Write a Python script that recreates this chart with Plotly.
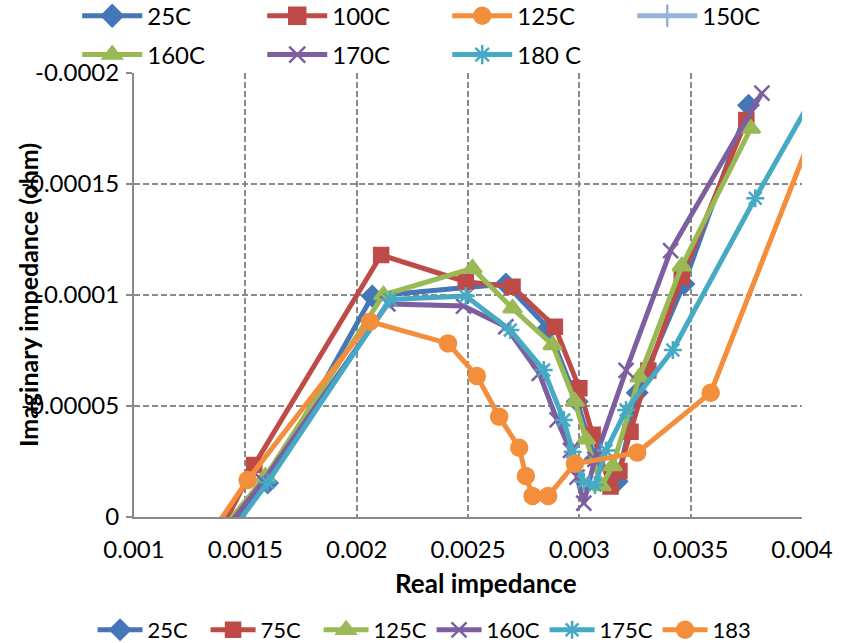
import plotly.graph_objects as go

# Nyquist-style impedance data: real part (ohm) vs. imaginary part (ohm)
LABELS = ["25C", "75C", "125C", "160C", "175C", "183"]

X_25C = [0.00130, 0.00160, 0.00207, 0.00267, 0.00286, 0.00299, 0.00307, 0.00317, 0.00326, 0.00347, 0.00376]
Y_25C = [0.0000206, -0.0000153, -0.0000995, -0.000105, -0.0000850, -0.0000520, -0.0000260, -0.0000160, -0.0000560, -0.000105, -0.0001855]

X_75C = [0.00130, 0.00154, 0.00211, 0.00249, 0.00270, 0.00289, 0.00300, 0.00306, 0.00314, 0.00318, 0.00323, 0.00331, 0.00346, 0.00375]
Y_75C = [0.0000236, -0.0000234, -0.000118, -0.000106, -0.0001037, -0.0000857, -0.0000580, -0.0000370, -0.0000137, -0.0000207, -0.0000384, -0.0000660, -0.000108, -0.0001788]

X_125C = [0.00130, 0.00159, 0.00212, 0.00252, 0.00270, 0.00288, 0.00298, 0.00303, 0.00310, 0.00315, 0.00327, 0.00346, 0.00377]
Y_125C = [0.0000172, -0.0000182, -0.000100, -0.000112, -0.0000940, -0.0000775, -0.0000520, -0.0000350, -0.0000140, -0.0000230, -0.0000630, -0.000113, -0.000175]

X_160C = [0.00130, 0.00158, 0.00214, 0.00248, 0.00267, 0.00282, 0.00290, 0.00296, 0.00299, 0.00302, 0.00307, 0.00321, 0.00341, 0.00382]
Y_160C = [0.0000196, -0.0000160, -0.0000960, -0.0000950, -0.0000857, -0.0000647, -0.0000437, -0.0000300, -0.0000180, -0.0000062, -0.0000260, -0.0000660, -0.000120, -0.0001909]

X_175C = [0.00130, 0.00160, 0.00215, 0.00249, 0.00269, 0.00284, 0.00293, 0.00297, 0.00302, 0.00307, 0.00312, 0.00321, 0.00342, 0.00379, 0.00420]
Y_175C = [0.0000250, -0.0000155, -0.0000980, -0.0000995, -0.0000842, -0.0000662, -0.0000437, -0.0000294, -0.0000159, -0.0000144, -0.0000300, -0.0000482, -0.0000752, -0.0001436, -0.000216]

X_183 = [0.00130, 0.00151, 0.00206, 0.00241, 0.00254, 0.00264, 0.00273, 0.00276, 0.00279, 0.00286, 0.00298, 0.00326, 0.00359, 0.00420]
Y_183 = [0.0000143, -0.0000167, -0.0000880, -0.0000782, -0.0000635, -0.0000452, -0.0000312, -0.0000185, -0.0000095, -0.0000095, -0.0000240, -0.0000290, -0.0000560, -0.000212]

# Secondary legend (temperature key shown above the plot)
KEY_LABELS = ["25C", "100C", "125C", "150C", "160C", "170C", "180 C"]

X_TICK_VALS = [0.001, 0.0015, 0.002, 0.0025, 0.003, 0.0035, 0.004]
X_TICK_TEXT = ["0.001", "0.0015", "0.002", "0.0025", "0.003", "0.0035", "0.004"]
Y_TICK_VALS = [0, -0.00005, -0.0001, -0.00015, -0.0002]
Y_TICK_TEXT = ["0", "-0.00005", "-0.0001", "-0.00015", "-0.0002"]

BLUE = "#4576B8"
RED = "#BE4B48"
GREEN = "#98B954"
PURPLE = "#7D5FA0"
TEAL = "#46AAC5"
ORANGE = "#F38F3C"
LIGHTBLUE = "#95B3D7"

FONT = "Lato, Liberation Sans, Arial, sans-serif"

series = [
    (X_25C, Y_25C, BLUE, "diamond", 15),
    (X_75C, Y_75C, RED, "square", 14),
    (X_125C, Y_125C, GREEN, "triangle-up", 16),
    (X_160C, Y_160C, PURPLE, "x-thin-open", 15),
    (X_175C, Y_175C, TEAL, "asterisk-open", 15),
    (X_183, Y_183, ORANGE, "circle", 16),
]

fig = go.Figure()

for (xs, ys, color, sym, size), name in zip(series, LABELS):
    fig.add_trace(go.Scatter(
        x=xs, y=ys, name=name, mode="lines+markers",
        line=dict(color=color, width=5),
        marker=dict(symbol=sym, size=size, color=color,
                    line=dict(color=color, width=2.5)),
        legend="legend",
    ))

key_styles = [
    (BLUE, "diamond", "legend2"),
    (RED, "square", "legend2"),
    (ORANGE, "circle", "legend2"),
    (LIGHTBLUE, "line-ns-open", "legend2"),
    (GREEN, "triangle-up", "legend3"),
    (PURPLE, "x-thin-open", "legend3"),
    (TEAL, "asterisk-open", "legend3"),
]
for (color, sym, leg), name in zip(key_styles, KEY_LABELS):
    fig.add_trace(go.Scatter(
        x=[None], y=[None], name=name, mode="lines+markers",
        line=dict(color=color, width=5),
        marker=dict(symbol=sym, size=16, color=color,
                    line=dict(color=color, width=2.5)),
        legend=leg, hoverinfo="skip",
    ))

axis_grey = "#8A8A8A"
fig.update_xaxes(
    range=[0.001, 0.004], tickvals=X_TICK_VALS, ticktext=X_TICK_TEXT,
    showgrid=True, gridcolor=axis_grey, griddash="6px,3px", gridwidth=1.6,
    showline=True, linecolor=axis_grey, linewidth=2, zeroline=False,
    ticks="", tickfont=dict(size=24), ticklabelstandoff=10,
)
fig.update_yaxes(
    range=[0, -0.0002], tickvals=Y_TICK_VALS, ticktext=Y_TICK_TEXT,
    showgrid=True, gridcolor=axis_grey, griddash="6px,3px", gridwidth=1.6,
    showline=True, linecolor=axis_grey, linewidth=2, zeroline=False,
    ticks="outside", ticklen=6, tickcolor=axis_grey, tickwidth=1.5,
    tickfont=dict(size=24), ticklabelstandoff=2,
)

legend_common = dict(orientation="h", bgcolor="rgba(0,0,0,0)",
                     xanchor="left", yanchor="middle")
fig.update_layout(
    width=842, height=643,
    margin=dict(l=134, r=40, t=73, b=126, autoexpand=False),
    plot_bgcolor="white", paper_bgcolor="white",
    font=dict(family=FONT, size=22, color="black"),
    showlegend=True,
    legend=dict(x=-0.062, y=-0.2545, entrywidth=53, itemwidth=45,
                font=dict(size=22), **legend_common),
    legend2=dict(x=-0.085, y=1.128, entrywidth=110, itemwidth=60,
                 font=dict(size=24), **legend_common),
    legend3=dict(x=-0.085, y=1.0405, entrywidth=110, itemwidth=60,
                 font=dict(size=24), **legend_common),
    annotations=[
        dict(text="<b>Real impedance</b>", xref="paper", yref="paper",
             x=0.527, y=-0.149, showarrow=False, font=dict(size=26),
             xanchor="center", yanchor="middle"),
        dict(text="<b>Imaginary impedance (ohm)</b>", xref="paper", yref="paper",
             x=0, y=0.5, xshift=-106, textangle=-90, showarrow=False,
             font=dict(size=25), xanchor="center", yanchor="middle"),
    ],
)

fig.write_html("out.html")
